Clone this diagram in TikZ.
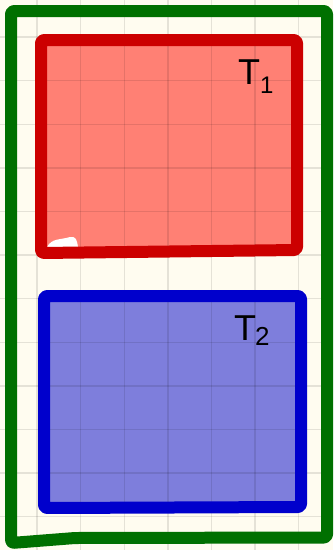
\documentclass[tikz,border=0pt]{standalone}
\usepackage{fontspec}
\setmainfont{Liberation Sans}
\definecolor{paper}{RGB}{255,252,240}
\definecolor{redline}{RGB}{204,0,0}
\definecolor{redfill}{RGB}{255,128,116}
\definecolor{blueline}{RGB}{0,0,204}
\definecolor{bluefill}{RGB}{126,126,220}
\definecolor{greenline}{RGB}{0,112,0}
\tikzset{
  gridline/.style={draw=black, opacity=0.1, line width=1.4pt},
  frame/.style={line width=12pt, line join=round, line cap=round, rounded corners=3pt},
  lbl/.style={font=\fontsize{36}{36}\selectfont, inner sep=0pt, text=black},
}
\begin{document}
\begin{tikzpicture}[x=1pt,y=-1pt]
\useasboundingbox (0,0) rectangle (333,550);
\fill[paper] (0,0) rectangle (333,550);
% fills
\fill[redfill] (41,40) -- (297,40) -- (297,250) -- (41,253) -- cycle;
\fill[white] (47,247) .. controls (52,238) and (60,240) .. (70,237) .. controls (76,236) and (77,240) .. (78,247) -- cycle;
\fill[bluefill] (44,296) -- (301,296) -- (301,507) -- (44,508) -- cycle;
% grid
\foreach \k in {0,...,6} \draw[gridline] ({37+43.6*\k},0) -- ({37+43.6*\k},550);
\foreach \k in {0,...,11} \draw[gridline] (0,{37+43.6*\k}) -- (333,{37+43.6*\k});
% strokes
\draw[frame, redline] (41,40) -- (297,40) -- (297,250) -- (41,253) -- cycle;
\draw[frame, blueline] (44,296) -- (301,296) -- (301,507) -- (44,508) -- cycle;
\draw[frame, greenline] (11,11) -- (327,11) -- (327,537.5) -- (75,538) -- (11,543) -- cycle;
% labels
\node[lbl, anchor=base west] (t1) at (238,84) {T\raisebox{-9pt}{\fontsize{24}{24}\selectfont 1}};
\node[lbl, anchor=base west] (t2) at (234,340) {T\kern-1pt\raisebox{-5pt}{\fontsize{26}{26}\selectfont 2}};
\end{tikzpicture}
\end{document}
